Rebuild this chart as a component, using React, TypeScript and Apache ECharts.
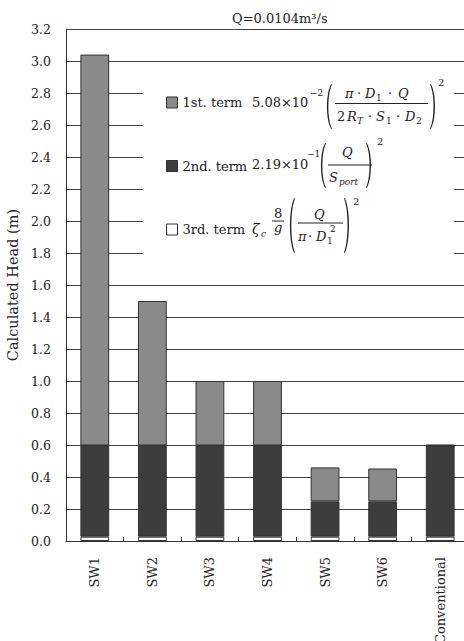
import React, { useEffect, useRef } from "react";
import * as echarts from "echarts";

const categories = ["SW1", "SW2", "SW3", "SW4", "SW5", "SW6", "Conventional"];
const term1 = [2.443, 0.903, 0.403, 0.403, 0.212, 0.205, 0.004];
const term2 = [0.57, 0.57, 0.57, 0.57, 0.221, 0.221, 0.57];
const term3 = [0.027, 0.027, 0.027, 0.027, 0.027, 0.027, 0.027];
const legendNames = ["1st. term", "2nd. term", "3rd. term"];
const titleText = "Q=0.0104m³/s";
const yName = "Calculated Head (m)";

const FONT = "DejaVu Serif";
const INK = "#222";

let registered = false;
function registerParens() {
  if (registered) return;
  registered = true;
  echarts.graphic.registerShape(
    "lparen",
    echarts.graphic.extendPath("M9 0 C2 20 2 80 9 100 L10 99 C4 78 4 22 10 1 Z", {})
  );
  echarts.graphic.registerShape(
    "rparen",
    echarts.graphic.extendPath("M1 0 C8 20 8 80 1 100 L0 99 C6 78 6 22 0 1 Z", {})
  );
}

function T(x: number, yc: number, text: string, size = 13, italic = false, align = "left") {
  return {
    type: "text",
    x,
    y: yc,
    z: 5,
    style: {
      text,
      fontSize: size,
      fontFamily: FONT,
      fontStyle: italic ? "italic" : "normal",
      fill: INK,
      align,
      verticalAlign: "middle",
    },
  };
}
function Dot(cx: number, yc: number) {
  return T(cx, yc, "·", 13, false, "center");
}
function P(kind: "lparen" | "rparen", x: number, y0: number, w: number, h: number) {
  return {
    type: kind,
    x,
    y: y0,
    scaleX: w / 10,
    scaleY: h / 100,
    z: 5,
    style: { fill: INK },
  };
}
function Bar(x1: number, x2: number, y: number) {
  return {
    type: "line",
    z: 5,
    shape: { x1, y1: y, x2, y2: y },
    style: { stroke: INK, lineWidth: 1 },
  };
}

function formulaGraphics() {
  return [
    // legend background box
    {
      type: "rect",
      z: 1,
      shape: { x: 143, y: 64, width: 311, height: 207 },
      style: { fill: "#fff" },
    },
    // 1st term formula
    T(252, 102, "5.08×10"),
    T(310, 93, "−2", 9),
    P("lparen", 324, 84, 8, 45),
    T(345, 93, "π", 13, true),
    Dot(359, 93),
    T(365, 93, "D", 13, true),
    T(376, 98, "1", 9),
    Dot(390, 93),
    T(398, 93, "Q", 13, true),
    Bar(335, 428, 103.5),
    T(337, 116, "2"),
    T(347, 116, "R", 13, true),
    T(357, 121, "T", 9, true),
    Dot(370, 116),
    T(376, 116, "S", 13, true),
    T(386, 121, "1", 9),
    Dot(398, 116),
    T(405, 116, "D", 13, true),
    T(416, 121, "2", 9),
    P("rparen", 430, 84, 8, 45),
    T(438, 82, "2", 10),
    // 2nd term formula
    T(252, 164, "2.19×10"),
    T(307, 154, "−1", 9),
    P("lparen", 318, 143, 8, 45),
    T(342, 152, "Q", 13, true),
    Bar(328, 372, 165),
    T(329, 177, "S", 13, true),
    T(339, 182, "port", 9, true),
    P("rparen", 366, 143, 8, 45),
    T(377, 141, "2", 10),
    // 3rd term formula
    T(252, 229, "ζ", 14, true),
    T(261, 234, "c", 9, true),
    T(274, 213, "8"),
    Bar(272, 284, 221),
    T(274, 227, "g", 13, true),
    P("lparen", 287, 198, 8, 55),
    T(314, 214, "Q", 13, true),
    Bar(298, 343, 223),
    T(298, 236, "π", 13, true),
    Dot(310, 236),
    T(316, 236, "D", 13, true),
    T(327, 241, "1", 9),
    T(330, 229, "2", 9),
    P("rparen", 344, 198, 8, 55),
    T(353, 201, "2", 10),
  ];
}

export default function App() {
  const ref = useRef<HTMLDivElement>(null);
  useEffect(() => {
    if (!ref.current) return;
    registerParens();
    const chart = echarts.init(ref.current, null, { renderer: "svg" });
    const border = { borderColor: "#333", borderWidth: 1 };
    chart.setOption({
      animation: false,
      backgroundColor: "#fff",
      textStyle: { fontFamily: FONT },
      title: {
        text: titleText,
        left: 227,
        top: 7,
        textStyle: { fontFamily: FONT, fontSize: 13, fontWeight: "normal", color: INK },
      },
      grid: {
        left: 66,
        right: -5,
        top: 29,
        bottom: 100,
        containLabel: false,
        outerBoundsMode: "none",
      },
      legend: {
        data: legendNames,
        orient: "vertical",
        left: 161,
        top: 91,
        itemWidth: 11,
        itemHeight: 11,
        itemGap: 50.5,
        icon: "rect",
        z: 10,
        textStyle: { fontFamily: FONT, fontSize: 13, color: INK },
        itemStyle: { borderColor: "#333", borderWidth: 1 },
      },
      xAxis: {
        type: "category",
        data: categories,
        axisLine: { lineStyle: { color: "#333", width: 1 } },
        axisTick: { show: true, inside: true, length: 4, lineStyle: { color: "#333" } },
        axisLabel: {
          rotate: 90,
          margin: 16,
          fontFamily: FONT,
          fontSize: 13,
          color: INK,
        },
      },
      yAxis: {
        type: "value",
        min: 0,
        max: 3.2,
        interval: 0.2,
        name: yName,
        nameLocation: "middle",
        nameGap: 40,
        nameTextStyle: { fontFamily: FONT, fontSize: 14.5, color: INK },
        axisLine: { show: true, lineStyle: { color: "#333", width: 1 } },
        axisTick: { show: false },
        splitLine: { show: true, lineStyle: { color: "#444", width: 1 } },
        axisLabel: {
          margin: 15,
          fontFamily: FONT,
          fontSize: 12.5,
          color: INK,
          formatter: (v: number) => v.toFixed(1),
        },
      },
      series: [
        {
          name: legendNames[2],
          type: "bar",
          stack: "head",
          barWidth: "50%",
          data: term3,
          itemStyle: { color: "#ffffff", ...border },
        },
        {
          name: legendNames[1],
          type: "bar",
          stack: "head",
          barWidth: "50%",
          data: term2,
          itemStyle: { color: "#3d3d3d", ...border },
        },
        {
          name: legendNames[0],
          type: "bar",
          stack: "head",
          barWidth: "50%",
          data: term1,
          itemStyle: { color: "#8a8a8a", ...border },
        },
      ],
      graphic: formulaGraphics(),
    });
    return () => chart.dispose();
  }, []);
  return (
    <div
      ref={ref}
      style={{ position: "absolute", left: 0, top: 0, width: 464, height: 641 }}
    />
  );
}
